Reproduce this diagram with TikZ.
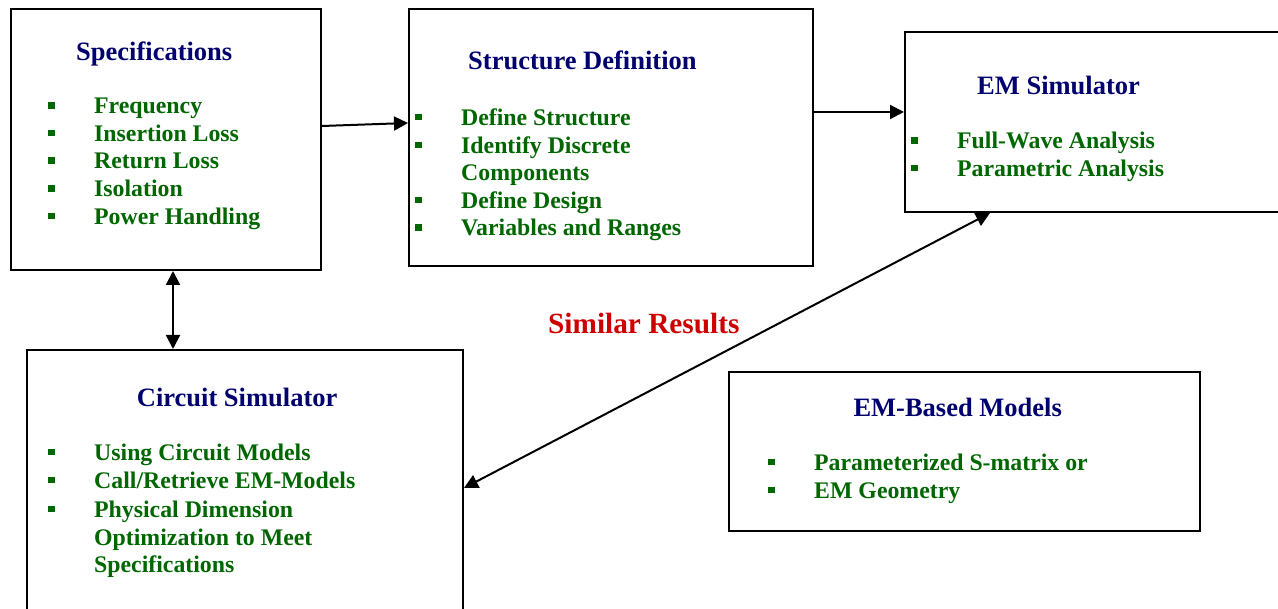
\documentclass[tikz,border=0pt]{standalone}
\usepackage{fontspec}
\setmainfont{Liberation Serif}
\usetikzlibrary{arrows.meta,calc}
\definecolor{titleblue}{RGB}{0,0,110}
\definecolor{itemgreen}{RGB}{0,102,0}
\definecolor{notered}{RGB}{204,0,0}
% square bullet followed by the indent of the item text
\newcommand\bul{\makebox[46pt][l]{\raisebox{5pt}{\rule{6.5pt}{6.5pt}}}}
\newcommand\cont{\hspace*{46pt}}
\begin{document}
\begin{tikzpicture}[x=1pt,y=-1pt,
  box/.style={draw=black,line width=2pt,inner sep=0pt,rectangle},
  ttl/.style={anchor=base west,inner sep=0pt,text=titleblue,font=\fontsize{26.5}{30}\selectfont\bfseries},
  lst/.style={anchor=base west,inner sep=0pt,text=itemgreen,font=\fontsize{23.8}{27.6}\selectfont\bfseries},
  conn/.style={line width=2pt,-{Triangle[length=14pt,width=14pt]}},
  dconn/.style={line width=2pt,{Triangle[length=14pt,width=14pt]}-{Triangle[length=14pt,width=14pt]}}]
\clip (0,0) rectangle (1278,609);
\fill[white] (0,0) rectangle (1278,609);

% boxes
\node[box,minimum width=310pt,minimum height=261pt] (spec) at (166,139.5) {};
\node[box,minimum width=404pt,minimum height=257pt] (struct) at (611,137.5) {};
\node[box,minimum width=390pt,minimum height=180pt] (emsim) at (1100,122) {};
\node[box,minimum width=436pt,minimum height=290pt] (circ) at (245,495) {};
\node[box,minimum width=471pt,minimum height=159pt] (embased) at (964.5,451.5) {};

% titles
\node[ttl] (specT) at (76,60.5) {Specifications};
\node[ttl] (structT) at (468,69.8) {Structure Definition};
\node[ttl] (emsimT) at (977,94.5) {EM Simulator};
\node[ttl] (circT) at (136.7,406.2) {Circuit Simulator};
\node[ttl] (embasedT) at (853.3,416.2) {EM-Based Models};

% bullet lists
\node[lst] (specL) at (48,113.8) {\begin{tabular}[t]{@{}l@{}}
\bul Frequency\\ \bul Insertion Loss\\ \bul Return Loss\\ \bul Isolation\\ \bul Power Handling
\end{tabular}};
\node[lst] (structL) at (415,125.5) {\begin{tabular}[t]{@{}l@{}}
\bul Define Structure\\ \bul Identify Discrete\\ \cont Components\\ \bul Define Design\\ \bul Variables and Ranges
\end{tabular}};
\node[lst] (emsimL) at (911,148.8) {\begin{tabular}[t]{@{}l@{}}
\bul Full-Wave Analysis\\ \bul Parametric Analysis
\end{tabular}};
\node[lst] (circL) at (48,460.5) {\begin{tabular}[t]{@{}l@{}}
\bul Using Circuit Models\\ \bul Call/Retrieve EM-Models\\[1.8pt] \bul Physical Dimension\\ \cont Optimization to Meet\\ \cont Specifications
\end{tabular}};
\node[lst] (embasedL) at (768,470.5) {\begin{tabular}[t]{@{}l@{}}
\bul Parameterized S-matrix or\\ \bul EM Geometry
\end{tabular}};

% label on the diagonal link
\node[anchor=base west,inner sep=0pt,text=notered,font=\fontsize{29.3}{33}\selectfont\bfseries] (simres) at (548,333.5) {Similar Results};

% connectors
\draw[conn] ([yshift=13.5pt]spec.east) -- ([yshift=14.5pt]struct.west);
\draw[conn] ([yshift=25.5pt]struct.east) -- ([yshift=10pt]emsim.west);
\draw[dconn] ([xshift=7pt]spec.south) -- ([xshift=7pt]spec.south |- circ.north);
\draw[dconn] ([yshift=7pt]circ.east) -- ([xshift=-110pt]emsim.south);
\end{tikzpicture}
\end{document}
